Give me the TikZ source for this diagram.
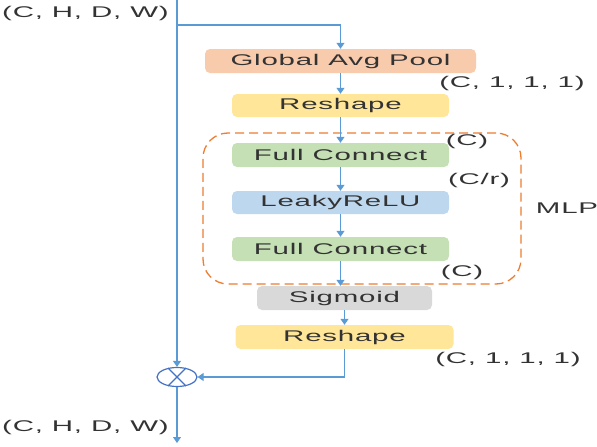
\documentclass[tikz,border=0pt]{standalone}
\usepackage{fontspec}
\setmainfont{Liberation Sans}[FakeStretch=1.9, LetterSpace=5]
\usetikzlibrary{arrows.meta,shapes.geometric}
\definecolor{lineblue}{HTML}{5B9BD5}
\definecolor{circc}{HTML}{4472C4}
\definecolor{gapc}{HTML}{F8CBAD}
\definecolor{resc}{HTML}{FFE699}
\definecolor{fcc}{HTML}{C5E0B4}
\definecolor{lrc}{HTML}{BDD7EE}
\definecolor{sigc}{HTML}{D9D9D9}
\definecolor{orangec}{HTML}{ED7D31}
\definecolor{txt}{HTML}{333333}
\tikzset{
  blk/.style={rounded corners=5pt, inner sep=0pt, minimum height=24pt,
    font=\fontsize{15.5}{18}\selectfont, text=txt},
  conn/.style={draw=lineblue, line width=1.1pt, -{Triangle[length=6pt,width=8pt]}},
  lbl/.style={font=\fontsize{15.5}{18}\selectfont, text=txt, inner sep=0pt},
  mlpbox/.style={draw=orangec, line width=1.3pt, dash pattern=on 9pt off 5pt,
    rounded corners=25pt, inner sep=0pt},
  mulnode/.style={ellipse, draw=circc, line width=1.2pt, inner sep=0pt,
    minimum width=40pt, minimum height=19pt}
}
\begin{document}
\begin{tikzpicture}[x=1pt,y=-1pt]
\useasboundingbox (0,0) rectangle (597,447);
\node[mlpbox, minimum width=318pt, minimum height=151pt] (mlp) at (362,208.5) {};
\node[blk, fill=gapc, minimum width=271pt] (gap) at (340.5,61) {Global Avg Pool};
\node[blk, fill=resc, minimum width=217pt, minimum height=23pt] (rs1) at (340.5,105.5) {Reshape};
\node[blk, fill=fcc, minimum width=217pt] (fc1) at (340.5,155) {Full Connect};
\node[blk, fill=lrc, minimum width=217pt, minimum height=23pt] (lr) at (340.5,202.5) {LeakyReLU};
\node[blk, fill=fcc, minimum width=217pt] (fc2) at (340.5,249) {Full Connect};
\node[blk, fill=sigc, minimum width=175pt] (sig) at (344.5,298) {Sigmoid};
\node[blk, fill=resc, minimum width=218pt] (rs2) at (344.5,337) {Reshape};
\coordinate (top) at (177,0);
\coordinate (br) at (177,25);
\coordinate (bot) at (177,443);
\node[mulnode] (mul) at (177,377) {};
\draw[draw=circc, line width=1.2pt] (mul.45) -- (mul.225) (mul.135) -- (mul.315);
\draw[conn] (top) -- (mul.north);
\draw[conn] (br) -| (gap.north);
\draw[conn] (gap.south) -- (rs1.north);
\draw[conn] (rs1.south) -- (fc1.north);
\draw[conn] (fc1.south) -- (lr.north);
\draw[conn] (lr.south) -- (fc2.north);
\draw[conn] (fc2.south) -- (fc2.south |- sig.north);
\draw[conn] (sig.south) -- (rs2.north);
\draw[conn] (rs2.south) |- (mul.east);
\draw[conn] (mul.south) -- (bot);
\node[lbl, anchor=west] (l1) at (2,13) {(C, H, D, W)};
\node[lbl] (l2) at (512,83) {(C, 1, 1, 1)};
\node[lbl] (l3) at (467,141) {(C)};
\node[lbl] (l4) at (479,180) {(C/r)};
\node[lbl] (l5) at (567,208) {MLP};
\node[lbl] (l6) at (462,272) {(C)};
\node[lbl] (l7) at (508,359) {(C, 1, 1, 1)};
\node[lbl, anchor=west] (l8) at (2,427) {(C, H, D, W)};
\end{tikzpicture}
\end{document}
